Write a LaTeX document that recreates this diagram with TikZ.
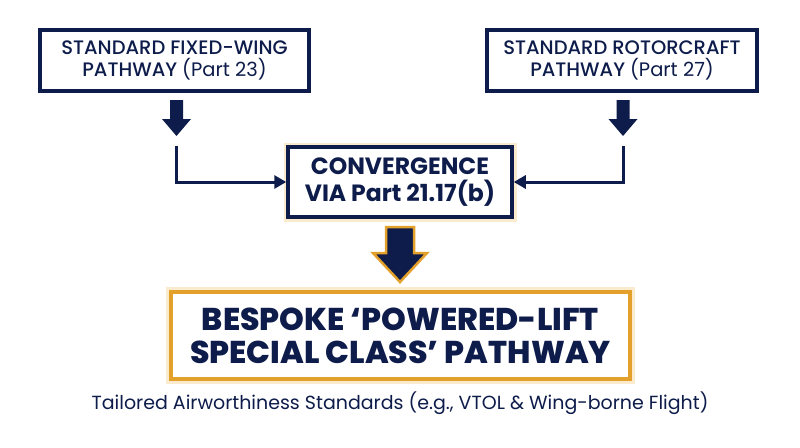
\documentclass[tikz,border=0pt]{standalone}
\usepackage{fontspec}
\setmainfont{Poppins}
\newfontfamily\popmed{Poppins Medium}
\newfontfamily\popblack{Poppins ExtraBold}
\usetikzlibrary{arrows.meta,calc}
\definecolor{navy}{HTML}{0D1C4A}
\definecolor{gold}{HTML}{E3A02A}
\definecolor{glow}{HTML}{F7DDAE}
\begin{document}
\begin{tikzpicture}[x=1pt,y=-1pt,
  topbox/.style={draw=navy,line width=3.5pt,fill=white,minimum width=269pt,minimum height=61pt,
    align=center,text=navy,font=\fontsize{19.5}{22}\selectfont\popmed,inner sep=0pt},
  convbox/.style={draw=navy,line width=3.5pt,fill=white,minimum width=224pt,minimum height=70pt,
    align=center,text=navy,font=\fontsize{23.5}{27}\selectfont\bfseries,inner sep=0pt,
    preaction={draw=glow,line width=9pt,opacity=0.6}},
  besbox/.style={draw=gold,line width=4pt,fill=white,minimum width=459pt,minimum height=87pt,
    align=center,text=navy,font=\fontsize{31.5}{33}\selectfont\popblack,inner sep=0pt,
    preaction={draw=glow,line width=10pt,opacity=0.6}},
  link/.style={draw=navy,line width=3pt,-{Triangle[length=12pt,width=13pt]}},
  blockarrow/.style={fill=navy},
  bigarrow/.style={fill=navy,draw=gold,line width=2.5pt,line join=miter},
  notetext/.style={text=navy,font=\fontsize{19}{22}\selectfont,inner sep=0pt}
]
\useasboundingbox (0,0) rectangle (800,447);
\fill[white] (0,0) rectangle (800,447);

\node[topbox] (fw) at (174.5,60.5) {STANDARD FIXED-WING\\PATHWAY {\normalfont\fontsize{19.5}{22}\selectfont(Part 23)}};
\node[topbox,minimum width=270pt] (rc) at (622,60.5) {STANDARD ROTORCRAFT\\PATHWAY {\normalfont\fontsize{19.5}{22}\selectfont(Part 27)}};
\node[convbox] (conv) at (400,182) {CONVERGENCE\\VIA Part 21.17(b)};
\node[besbox] (bes) at (400.5,335.5) {BESPOKE ‘POWERED-LIFT\\SPECIAL CLASS’ PATHWAY};
\node[notetext] (note) at (400,403) {Tailored Airworthiness Standards (e.g., VTOL \& Wing-borne Flight)};

% block arrows under top boxes
\fill[blockarrow] (170,100) -- (183,100) -- (183,119) -- (191,119) -- (176.5,136) -- (162,119) -- (170,119) -- cycle;
\fill[blockarrow] (616.5,100) -- (629.5,100) -- (629.5,119) -- (637.5,119) -- (623,136) -- (608.5,119) -- (616.5,119) -- cycle;

% connectors
\coordinate (l1) at (176.5,146);
\coordinate (r1) at (623,146);
\draw[link] (l1) |- (conv.west);
\draw[link] (r1) |- (conv.east);

% big arrow
\draw[bigarrow] (386,227) -- (414,227) -- (414,253) -- (427,253) -- (400,282) -- (373,253) -- (386,253) -- cycle;
\end{tikzpicture}
\end{document}
